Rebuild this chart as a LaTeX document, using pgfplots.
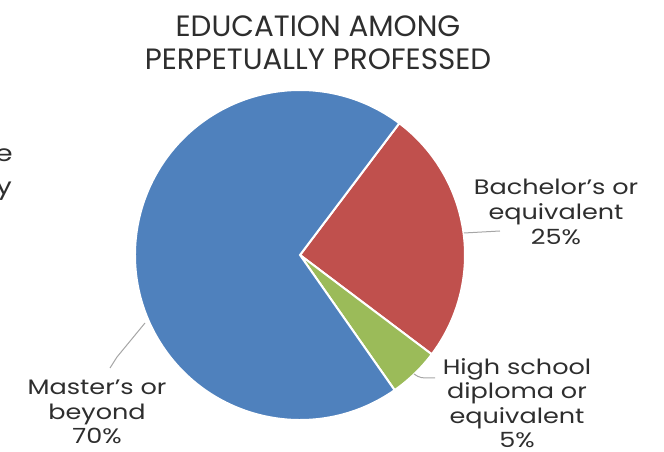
\documentclass[border=0pt]{standalone}
\usepackage{pgfplots}
\pgfplotsset{compat=1.18}
\usepackage{pgfplotstable}
\usepackage{fontspec}
\setmainfont{Poppins}
\newfontfamily\labelfont[FakeStretch=1.22]{Poppins}
\definecolor{sblue}{HTML}{4F81BD}
\definecolor{sred}{HTML}{C0504D}
\definecolor{sgreen}{HTML}{9BBB59}
\definecolor{txt}{HTML}{2E2E2E}
\definecolor{lead}{HTML}{A6A6A6}
\pgfplotstableread{
label value
Bachelor 25
HighSchool 5
Masters 70
}\piedata
\begin{document}
\begin{tikzpicture}
\useasboundingbox (0,0) rectangle (664bp,452bp);
\pgfplotstablegetelem{0}{value}\of\piedata \pgfmathsetmacro{\va}{\pgfplotsretval}
\pgfplotstablegetelem{1}{value}\of\piedata \pgfmathsetmacro{\vb}{\pgfplotsretval}
\pgfplotstablegetelem{2}{value}\of\piedata \pgfmathsetmacro{\vc}{\pgfplotsretval}
\pgfmathsetmacro{\aS}{53}
\pgfmathsetmacro{\aA}{\aS-3.6*\va}
\pgfmathsetmacro{\aB}{\aA-3.6*\vb}
\pgfmathsetmacro{\aC}{\aB-3.6*\vc}
\begin{axis}[at={(0,0)}, anchor=origin, scale only axis, width=664bp, height=452bp,
  xmin=0, xmax=664, ymin=0, ymax=452, hide axis, clip=false]
\fill[sred, draw=white, line width=2bp] (axis cs:300,197) -- ++(\aS:165bp) arc[start angle=\aS, end angle=\aA, radius=165bp] -- cycle;
\fill[sgreen, draw=white, line width=2bp] (axis cs:300,197) -- ++(\aA:165bp) arc[start angle=\aA, end angle=\aB, radius=165bp] -- cycle;
\fill[sblue, draw=white, line width=2bp] (axis cs:300,197) -- ++(\aB:165bp) arc[start angle=\aB, end angle=\aC, radius=165bp] -- cycle;
% leader lines
\draw[lead, line width=1bp] (axis cs:464,219) -- (axis cs:500,221);
\draw[lead, line width=1bp] (axis cs:414,78) .. controls (axis cs:420,74) .. (axis cs:435,74);
\draw[lead, line width=1bp] (axis cs:145,129) -- (axis cs:117,95) -- (axis cs:110,84);
% title
\node[txt, align=center, font=\fontsize{29.5}{33}\selectfont] at (axis cs:318,409) {EDUCATION AMONG\\PERPETUALLY PROFESSED};
% labels
\node[txt, align=center, font=\labelfont\fontsize{21}{25}\selectfont] at (axis cs:556,240) {Bachelor’s or\\equivalent\\25\%};
\node[txt, align=center, font=\labelfont\fontsize{21}{24.5}\selectfont] at (axis cs:517,49) {High school\\diploma or\\equivalent\\5\%};
\node[txt, align=center, font=\labelfont\fontsize{21}{24.5}\selectfont] at (axis cs:97,40) {Master’s or\\beyond\\70\%};
% partial text cut at left edge
\node[txt, anchor=base east, inner sep=0pt, font=\labelfont\fontsize{23}{27}\selectfont] at (axis cs:13,290) {the};
\node[txt, anchor=base east, inner sep=0pt, font=\labelfont\fontsize{23}{27}\selectfont] at (axis cs:12,257) {by};
\end{axis}
\end{tikzpicture}
\end{document}
